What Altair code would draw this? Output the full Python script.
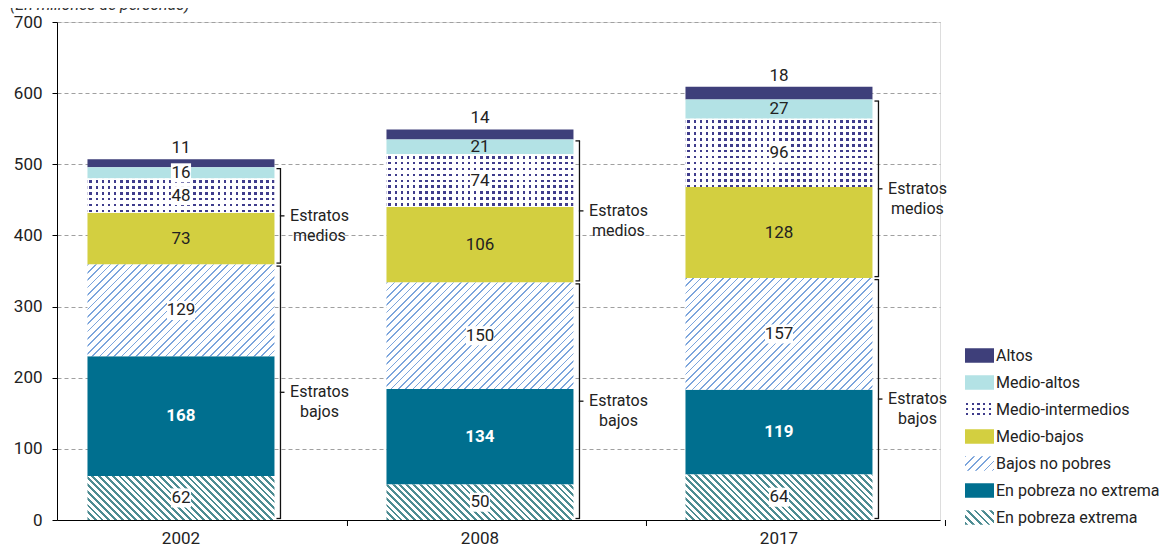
import math
import altair as alt
import pandas as pd

# ---------------- data ----------------
years = ["2002", "2008", "2017"]
categories = ["En pobreza extrema", "En pobreza no extrema", "Bajos no pobres",
              "Medio-bajos", "Medio-intermedios", "Medio-altos", "Altos"]
en_pobreza_extrema = [62, 50, 64]
en_pobreza_no_extrema = [168, 134, 119]
bajos_no_pobres = [129, 150, 157]
medio_bajos = [73, 106, 128]
medio_intermedios = [48, 74, 96]
medio_altos = [16, 21, 27]
altos = [11, 14, 18]
series = [en_pobreza_extrema, en_pobreza_no_extrema, bajos_no_pobres,
          medio_bajos, medio_intermedios, medio_altos, altos]
strata_names = ["Estratos\nbajos", "Estratos\nmedios"]
strata_members = [[0, 1, 2], [3, 4, 5]]
y_ticks = [0, 100, 200, 300, 400, 500, 600, 700]
subtitle = "(En millones de personas)"
legend_order = categories[::-1]

# ---------------- style ----------------
FONT = "Roboto"
W, H, YMAX = 883, 498, 700
P_INNER, P_OUTER, ALIGN = 0.3746, 0.1639, 0.311
STEP = W / (len(years) - P_INNER + 2 * P_OUTER)
BW = STEP * (1 - P_INNER)
PX = H / YMAX

colors = {
    "Altos": "#3e3f7a",
    "Medio-altos": "#b3e2e5",
    "Medio-intermedios": "#3f3c8c",
    "Medio-bajos": "#d3cf40",
    "Bajos no pobres": "#7ca5dc",
    "En pobreza no extrema": "#006f8f",
    "En pobreza extrema": "#4d8c92",
}
flat_cats = ["Altos", "Medio-altos", "Medio-bajos", "En pobreza no extrema"]
hatch_cats = {"Bajos no pobres": ("/", 5.2, 1.2), "En pobreza extrema": ("\\", 4.8, 2.0)}


def st(o, c):
    return {"offset": round(max(0.0, min(1.0, o)), 5), "color": c}


def hatch(w, h, color, direction, period, thick):
    k = (w + h) / (w * w + h * h)
    if direction == "/":
        x1, y1, x2, y2 = 0, 0, w * k, h * k
    else:
        x1, y1, x2, y2 = 0, 1, w * k, 1 - h * k
    total = (w + h) / math.sqrt(2)
    stops, p = [], 0.0
    while p < total:
        a, b, c = p / total, (p + thick) / total, (p + period) / total
        stops += [st(a, color), st(b, color), st(b, "#ffffff"), st(c, "#ffffff")]
        p += period
    return {"gradient": "linear", "x1": x1, "y1": y1, "x2": x2, "y2": y2, "stops": stops}


def dot_rows(h, color, period=5.9, dot=2.6, start=1.6):
    stops, p = [st(0, "#ffffff")], start
    while p < h:
        stops += [st(p / h, "#ffffff"), st(p / h, color), st((p + dot) / h, color),
                  st((p + dot) / h, "#ffffff")]
        p += period
    stops.append(st(1, "#ffffff"))
    return {"gradient": "linear", "x1": 0, "y1": 0, "x2": 0, "y2": 1, "stops": stops}


def dot_cols(w, period=6.1, dot=2.6, start=2.0):
    white, clear = "rgba(255,255,255,1)", "rgba(255,255,255,0)"
    stops, p = [st(0, white)], start
    while p < w:
        stops += [st(p / w, white), st(p / w, clear), st((p + dot) / w, clear),
                  st((p + dot) / w, white)]
        p += period
    stops.append(st(1, white))
    return {"gradient": "linear", "x1": 0, "y1": 0, "x2": 1, "y2": 0, "stops": stops}


# ---------------- tables ----------------
rows = []
for j, yr in enumerate(years):
    cum = 0
    for i, cat in enumerate(categories):
        v = series[i][j]
        rows.append({"year": yr, "cat": cat, "value": v, "y0": cum, "y1": cum + v,
                     "mid": cum + v / 2, "lab": str(v),
                     "boxed": cat in ("Bajos no pobres", "En pobreza extrema",
                                      "Medio-intermedios") or (cat != "Altos" and v < 20)})
        cum += v
df = pd.DataFrame(rows)

brows = []
for j, yr in enumerate(years):
    for name, members in zip(strata_names, strata_members):
        lo = sum(series[m][j] for m in range(members[0]))
        hi = lo + sum(series[m][j] for m in members)
        brows.append({"year": yr, "name": name, "lo": lo, "hi": hi, "mid": (lo + hi) / 2})
bdf = pd.DataFrame(brows)
ldf = pd.DataFrame({"cat": legend_order})
ydf = pd.DataFrame({"year": years})

xscale = alt.Scale(paddingInner=P_INNER, paddingOuter=P_OUTER, align=ALIGN, round=False)
xaxis = alt.Axis(title=None, labelAngle=0, ticks=False, domainColor="#000000",
                 labelFontSize=17, labelPadding=10, labelColor="#222222", labelFont=FONT)
X = alt.X("year:N", scale=xscale, axis=xaxis, sort=years)
yscale = alt.Scale(domain=[0, YMAX], nice=False, zero=True)


def Y(field, axis=None):
    return alt.Y(field, type="quantitative", scale=yscale, axis=axis)


yaxis = alt.Axis(title=None, values=y_ticks, grid=True, gridDash=[4, 3], gridColor="#a0a0a0",
                 domainColor="#000000", tickColor="#000000", tickSize=5, labelFontSize=17,
                 labelPadding=10, labelColor="#222222", labelFont=FONT)

layers = []
base = alt.Chart(df)
first = True
for c in flat_cats:
    layers.append(base.transform_filter(alt.datum.cat == c).mark_bar(color=colors[c]).encode(
        x=X, y=Y("y0", yaxis if first else None), y2="y1"))
    first = False
for j, yr in enumerate(years):
    for c, (d, per, th) in hatch_cats.items():
        v = series[categories.index(c)][j]
        g = hatch(BW, v * PX, colors[c], d, per, th)
        layers.append(base.transform_filter((alt.datum.cat == c) & (alt.datum.year == yr))
                      .mark_bar(fill=g, strokeWidth=0).encode(x=X, y=Y("y0"), y2="y1"))
    v = medio_intermedios[j]
    f = (alt.datum.cat == "Medio-intermedios") & (alt.datum.year == yr)
    layers.append(base.transform_filter(f).mark_bar(fill=dot_rows(v * PX, colors["Medio-intermedios"]),
                                                    strokeWidth=0).encode(x=X, y=Y("y0"), y2="y1"))
    layers.append(base.transform_filter(f).mark_bar(fill=dot_cols(BW), strokeWidth=0)
                  .encode(x=X, y=Y("y0"), y2="y1"))

half = BW / 2
# category separator ticks on the x axis
layers.append(alt.Chart(ydf).mark_rule(color="#000000", strokeWidth=1, xOffset=half + 73)
              .encode(x=X, y=alt.value(H), y2=alt.value(H + 6)))

# brackets
bb = alt.Chart(bdf)
layers.append(bb.mark_rule(color="#111111", strokeWidth=1.3, xOffset=half + 6,
                           yOffset=-1.5, y2Offset=1.5).encode(x=X, y=Y("lo"), y2="hi"))
layers.append(bb.mark_rule(color="#111111", strokeWidth=1.3, xOffset=half + 2, x2Offset=half + 6.6,
                           yOffset=1.5).encode(x=X, x2="year:N", y=Y("hi")))
layers.append(bb.mark_rule(color="#111111", strokeWidth=1.3, xOffset=half + 2, x2Offset=half + 6.6,
                           yOffset=-1.5).encode(x=X, x2="year:N", y=Y("lo")))
layers.append(bb.mark_rule(color="#111111", strokeWidth=1.3, xOffset=half + 5.4, x2Offset=half + 10)
              .encode(x=X, x2="year:N", y=Y("mid")))
layers.append(bb.mark_text(xOffset=half + 45, align="center", baseline="middle", lineBreak="\n",
                           fontSize=16, lineHeight=20, font=FONT, color="#222222")
              .encode(x=X, y=Y("mid"), text="name:N"))

# value labels
box3 = "M-1,-0.68L1,-0.68L1,0.68L-1,0.68Z"
box2 = "M-0.72,-0.68L0.72,-0.68L0.72,0.68L-0.72,0.68Z"
inner = base.transform_filter((alt.datum.cat != "Altos"))
layers.append(inner.transform_filter(alt.datum.boxed).mark_point(
    filled=True, fill="#ffffff", opacity=1, strokeWidth=0, size=784).encode(
    x=X, y=Y("mid"),
    shape=alt.condition(alt.datum.value >= 100, alt.value(box3), alt.value(box2))))
layers.append(inner.transform_filter(alt.datum.cat != "En pobreza no extrema").mark_text(
    fontSize=17, font=FONT, color="#222222", baseline="middle").encode(x=X, y=Y("mid"), text="lab:N"))
layers.append(inner.transform_filter(alt.datum.cat == "En pobreza no extrema").mark_text(
    fontSize=17, font=FONT, color="#ffffff", fontWeight="bold", baseline="middle").encode(
    x=X, y=Y("mid"), text="lab:N"))
layers.append(base.transform_filter(alt.datum.cat == "Altos").mark_text(
    fontSize=17, font=FONT, color="#222222", baseline="bottom", dy=-2).encode(
    x=X, y=Y("y1"), text="lab:N"))

# subtitle (mostly cut off at the top, as in the source)
layers.append(alt.Chart(pd.DataFrame({"t": [subtitle]})).mark_text(
    align="left", baseline="alphabetic", fontSize=16, fontStyle="italic", font=FONT,
    color="#333333").encode(x=alt.value(-47), y=alt.value(-12), text="t:N"))

# legend
SW, SH = 29, 14.5
swatch = "M-1,-0.5L1,-0.5L1,0.5L-1,0.5Z"
lbase = alt.Chart(ldf)
LY = alt.Y("cat:N", scale=alt.Scale(type="point", domain=legend_order, range=[333.5, 495.5],
                                    padding=0), axis=None, sort=legend_order)
lx = alt.value(922.5)
for c in flat_cats:
    layers.append(lbase.transform_filter(alt.datum.cat == c).mark_point(
        filled=True, fill=colors[c], opacity=1, strokeWidth=0, shape=swatch, size=841)
        .encode(x=lx, y=LY))
for c, (d, per, th) in hatch_cats.items():
    layers.append(lbase.transform_filter(alt.datum.cat == c).mark_point(
        filled=True, fill=hatch(SW, SH, colors[c], d, per + 0.6, th), opacity=1, strokeWidth=0,
        shape=swatch, size=841).encode(x=lx, y=LY))
fm = alt.datum.cat == "Medio-intermedios"
layers.append(lbase.transform_filter(fm).mark_point(
    filled=True, fill=dot_rows(SH, colors["Medio-intermedios"], 4.9, 2.2, 1.0), opacity=1,
    strokeWidth=0, shape=swatch, size=841).encode(x=lx, y=LY))
layers.append(lbase.transform_filter(fm).mark_point(
    filled=True, fill=dot_cols(SW, 5.6, 2.2, 1.2), opacity=1, strokeWidth=0, shape=swatch,
    size=841).encode(x=lx, y=LY))
layers.append(lbase.mark_text(align="left", baseline="middle", fontSize=16, font=FONT,
                              color="#222222").encode(x=alt.value(939), y=LY, text="cat:N"))

chart = alt.layer(*layers).resolve_scale(y="independent").properties(
    width=W, height=H,
    padding={"left": 49, "top": 14, "right": 223, "bottom": 27},
    autosize=alt.AutoSizeParams(type="none"),
).configure_view(stroke=None).configure(font=FONT)

chart.save("out.html", embed_options={"renderer": "svg", "actions": False})
